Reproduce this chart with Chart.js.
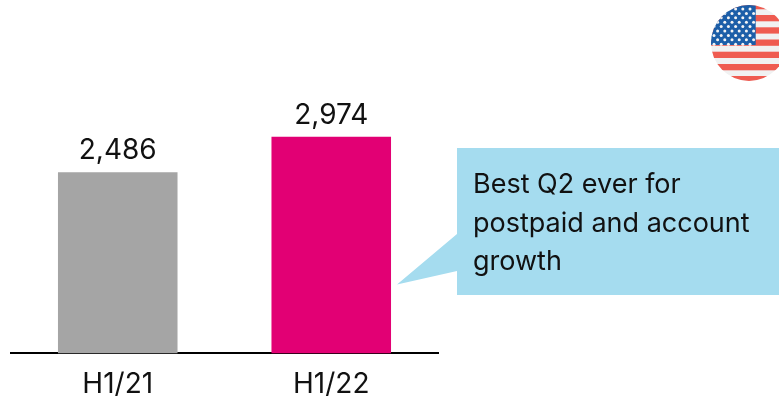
<!DOCTYPE html>
<html><head><meta charset="utf-8">
<script src="https://cdn.jsdelivr.net/npm/chart.js@4"></script>
<style>
html,body{margin:0;padding:0;background:#fff;width:779px;height:407px;overflow:hidden;font-family:Inter,Roboto,sans-serif}
#wrap{position:absolute;left:0;top:0;width:779px;height:407px}
svg{position:absolute;left:0;top:0}
</style></head><body>
<div id="wrap"><canvas id="c" width="779" height="407"></canvas></div>
<svg id="ov" width="779" height="407" viewBox="0 0 779 407" xmlns="http://www.w3.org/2000/svg"></svg>
<script>
const categories = ["H1/21", "H1/22"];
const values = [2486, 2974];
const valueLabels = ["2,486", "2,974"];
const barColors = ["#a5a5a5", "#e20074"];
const calloutLines = ["Best Q2 ever for", "postpaid and account", "growth"];

const FONT = "Inter";
const labels = {
  id: "labels",
  afterDatasetsDraw(chart) {
    const { ctx } = chart;
    const meta = chart.getDatasetMeta(0);
    ctx.save();
    ctx.font = "400 28px " + FONT;
    ctx.fillStyle = "#111";
    ctx.textAlign = "center";
    ctx.textBaseline = "alphabetic";
    meta.data.forEach((b, i) => ctx.fillText(valueLabels[i], b.x, b.y - 13));
    ctx.restore();
  }
};
new Chart(document.getElementById("c"), {
  type: "bar",
  data: { labels: categories, datasets: [{ data: values, backgroundColor: barColors, borderWidth: 0, categoryPercentage: 1, barPercentage: 0.56 }] },
  options: {
    responsive: false, animation: false,
    layout: { padding: { left: 11, right: 341, top: 0, bottom: 0 } },
    plugins: { legend: { display: false }, tooltip: { enabled: false } },
    scales: {
      y: { display: false, min: 0, max: 4850 },
      x: {
        grid: { display: false },
        border: { color: "#000", width: 2 },
        ticks: { color: "#111", font: { family: FONT, size: 28 }, padding: 6, maxRotation: 0 }
      }
    }
  },
  plugins: [labels]
});

// Overlay: callout and flag
const ns = "http://www.w3.org/2000/svg";
const ov = document.getElementById("ov");
function el(n, a, p) { const e = document.createElementNS(ns, n); for (const k in a) e.setAttribute(k, a[k]); (p || ov).appendChild(e); return e; }
el("path", { d: "M457 148H779V295H457V271L397 284.500L457 234Z", fill: "#a5dcef" });
calloutLines.forEach((t, i) => {
  const e = el("text", { x: 473, y: 193 + i * 38.5, "font-family": FONT, "font-size": 27, fill: "#111" });
  e.textContent = t;
});
const defs = el("defs", {});
const cp = el("clipPath", { id: "flagClip" }, defs);
el("circle", { cx: 749, cy: 43, r: 38 }, cp);
const g = el("g", { "clip-path": "url(#flagClip)" });
el("rect", { x: 700, y: 0, width: 79, height: 90, fill: "#f1f1f1" }, g);
[3, 15, 27.3, 39.5, 51.7, 64, 76].forEach(y => el("rect", { x: 700, y, width: 79, height: 6.300, fill: "#ef5b50" }, g));
el("rect", { x: 700, y: 0, width: 55.700, height: 45, fill: "#1c5ea8" }, g);
for (let r = 0; r < 9; r++) for (let c = 0; c < 8; c++) {
  const x = 714 + c * 7.200 + (r % 2 ? 3.600 : 0), y = 9 + r * 4.400;
  if (x < 754) el("circle", { cx: x, cy: y, r: 1.500, fill: "#f4f4f4" }, g);
}
</script>
</body></html>
